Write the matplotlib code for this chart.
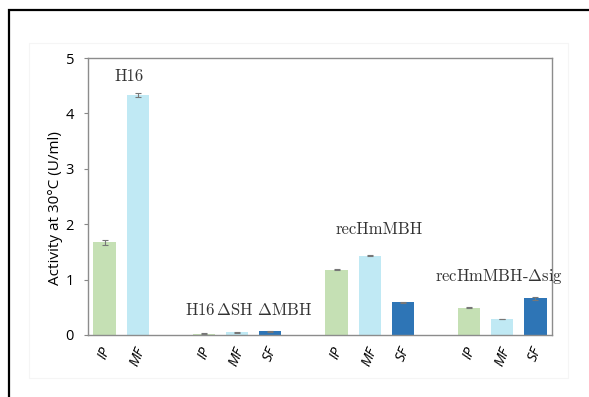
import numpy as np
import matplotlib
matplotlib.use("Agg")
import matplotlib.pyplot as plt
from matplotlib.patches import Rectangle

# activity measurements (U/ml) per strain and fraction
strains = ["H16", r"H16$\,\Delta$SH $\Delta$MBH", "recHmMBH", r"recHmMBH-$\Delta$sig"]
fractions = [["IP", "MF"], ["IP", "MF", "SF"], ["IP", "MF", "SF"], ["IP", "MF", "SF"]]
activity = [[1.67, 4.33], [0.02, 0.05, 0.07], [1.18, 1.43, 0.59], [0.49, 0.29, 0.66]]
errors = [[0.05, 0.03], [0.01, 0.01, 0.01], [0.01, 0.01, 0.01], [0.01, 0.005, 0.03]]

colors = {"IP": "#c5e0b4", "MF": "#c0e9f4", "SF": "#2e75b6"}
label_pos = [(0.75, 4.66), (4.35, 0.45), (8.3, 1.91), (11.9, 1.05)]

plt.rcParams["mathtext.fontset"] = "cm"

fig = plt.figure(figsize=(5.89, 3.97), dpi=100)
ax = fig.add_axes([88 / 589, 62 / 397, 464 / 589, 277 / 397])

# lay the groups out with one empty slot between them
x = []
heights = []
errs = []
cols = []
names = []
pos = 0
for fr, vals, er in zip(fractions, activity, errors):
    for f, v, e in zip(fr, vals, er):
        x.append(pos)
        heights.append(v)
        errs.append(e)
        cols.append(colors[f])
        names.append(f)
        pos += 1
    pos += 1

ax.bar(x, heights, width=0.67, color=cols, yerr=errs,
       error_kw=dict(ecolor="#777777", elinewidth=0.8, capsize=2.5, capthick=0.8))

for s, (lx, ly) in zip(strains, label_pos):
    ax.text(lx, ly, s, ha="center", va="center", fontsize=12,
            color="#333333", family="cmr10")

ax.set_xlim(-0.5, 13.5)
ax.set_ylim(0, 5)
ax.set_yticks([0, 1, 2, 3, 4, 5])
ax.set_xticks(x)
ax.set_xticklabels(names, rotation=68, style="italic", family="Open Sans", fontsize=10.5)
for t in ax.get_yticklabels():
    t.set_family("Open Sans")
    t.set_fontsize(10.5)
ax.tick_params(axis="x", length=0, pad=7)
ax.tick_params(axis="y", length=3, width=0.8, color="#888888", pad=7)
for sp in ax.spines.values():
    sp.set_color("#8c8c8c")
    sp.set_linewidth(1.0)

fig.text(56 / 589, 1 - 208 / 397, "Activity at 30\u00b0C (U/ml)", rotation=90,
         ha="center", va="center", family="Open Sans", fontsize=11)

# faint chart area outline and the black frame around the figure
fig.patches.append(Rectangle((29 / 589, 1 - 378 / 397), 539 / 589, 335 / 397,
                             transform=fig.transFigure, fill=False,
                             edgecolor="#f5f5f5", linewidth=0.8))
fig.patches.append(Rectangle((9 / 589, -0.1), 1.2, 1 - 10 / 397 + 0.1,
                             transform=fig.transFigure, fill=False,
                             edgecolor="black", linewidth=1.6))

fig.savefig("out.png", dpi=100)
